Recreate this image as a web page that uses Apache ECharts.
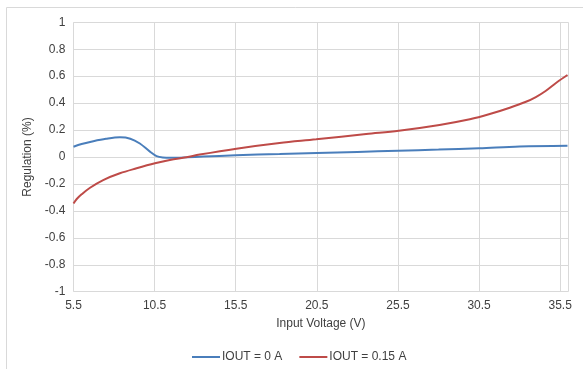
<!DOCTYPE html>
<html>
<head>
<meta charset="utf-8">
<script src="https://cdn.jsdelivr.net/npm/echarts@6/dist/echarts.min.js"></script>
<style>html,body{margin:0;padding:0;background:#fff}#c{width:583px;height:369px}</style>
</head>
<body>
<div id="c"></div>
<script>
var seriesNames = ['IOUT = 0 A', 'IOUT = 0.15 A'];
var iout0V = [5.5, 6.0, 6.72, 7.5, 8.36, 9.0, 9.59, 10.21, 10.62, 11.0, 11.5, 12.5, 13.5, 15.5, 18.2, 20.5, 23.0, 25.5, 28.0, 30.5, 33.0, 35.95];
var iout0Reg = [0.076, 0.096, 0.117, 0.135, 0.146, 0.136, 0.10, 0.04, 0.007, -0.003, -0.005, -0.002, 0.003, 0.013, 0.022, 0.030, 0.038, 0.047, 0.055, 0.065, 0.078, 0.084];
var iout15V = [5.5, 5.7, 6.0, 6.52, 7.33, 8.36, 9.39, 10.52, 11.44, 12.46, 13.28, 15.54, 18.2, 20.46, 23.54, 25.55, 28.06, 29.93, 31.16, 32.39, 33.39, 34.0, 34.6, 35.3, 35.95];
var iout15Reg = [-0.345, -0.312, -0.277, -0.228, -0.171, -0.121, -0.084, -0.047, -0.022, -0.002, 0.018, 0.062, 0.104, 0.131, 0.171, 0.195, 0.238, 0.28, 0.319, 0.366, 0.41, 0.445, 0.49, 0.555, 0.609];
var xTicks = {min: 5.5, max: 36, interval: 5};
var yTicks = {min: -1, max: 1, interval: 0.2};

function pairs(xs, ys) { return xs.map(function (x, i) { return [x, ys[i]]; }); }

var chart = echarts.init(document.getElementById('c'));
var txt = '#404040';
var font = 'Liberation Sans, Arial, sans-serif';
chart.setOption({
  animation: false,
  textStyle: {fontFamily: font},
  graphic: [{type: 'rect', shape: {x: 6.5, y: 7.5, width: 700, height: 500}, style: {fill: 'none', stroke: '#d9d9d9', lineWidth: 1}, z: -10}],
  grid: {left: 73.5, right: 14.7, top: 22.3, bottom: 77.3},
  legend: {
    left: 187, top: 346, itemWidth: 28, itemHeight: 2, itemGap: 17,
    icon: 'rect',
    textStyle: {color: txt, fontSize: 12, fontFamily: font, padding: [0, 0, 0, -3]},
    data: seriesNames
  },
  xAxis: {
    type: 'value', min: xTicks.min, max: xTicks.max, interval: xTicks.interval,
    name: 'Input Voltage (V)', nameLocation: 'middle', nameGap: 26,
    nameTextStyle: {color: txt, fontSize: 12, fontFamily: font},
    axisLine: {show: false}, axisTick: {show: false},
    axisLabel: {color: txt, fontSize: 12, fontFamily: font, margin: 8, showMaxLabel: false,
      formatter: function (v) { return v.toFixed(1); }},
    splitLine: {show: true, lineStyle: {color: '#d9d9d9', width: 1}}
  },
  yAxis: {
    type: 'value', min: yTicks.min, max: yTicks.max, interval: yTicks.interval,
    name: 'Regulation (%)', nameLocation: 'middle', nameGap: 36,
    nameTextStyle: {color: txt, fontSize: 12, fontFamily: font},
    axisLine: {show: false}, axisTick: {show: false},
    axisLabel: {color: txt, fontSize: 12, fontFamily: font, margin: 8,
      formatter: function (v) { return String(Math.round(v * 10) / 10); }},
    splitLine: {show: true, lineStyle: {color: '#d9d9d9', width: 1}}
  },
  series: [
    {name: seriesNames[0], type: 'line', data: pairs(iout0V, iout0Reg), smooth: 0.35, showSymbol: false,
      lineStyle: {color: '#4a7ebb', width: 2}, itemStyle: {color: '#4a7ebb'}},
    {name: seriesNames[1], type: 'line', data: pairs(iout15V, iout15Reg), smooth: 0.35, showSymbol: false,
      lineStyle: {color: '#be4b48', width: 2}, itemStyle: {color: '#be4b48'}}
  ]
});
</script>
</body>
</html>
